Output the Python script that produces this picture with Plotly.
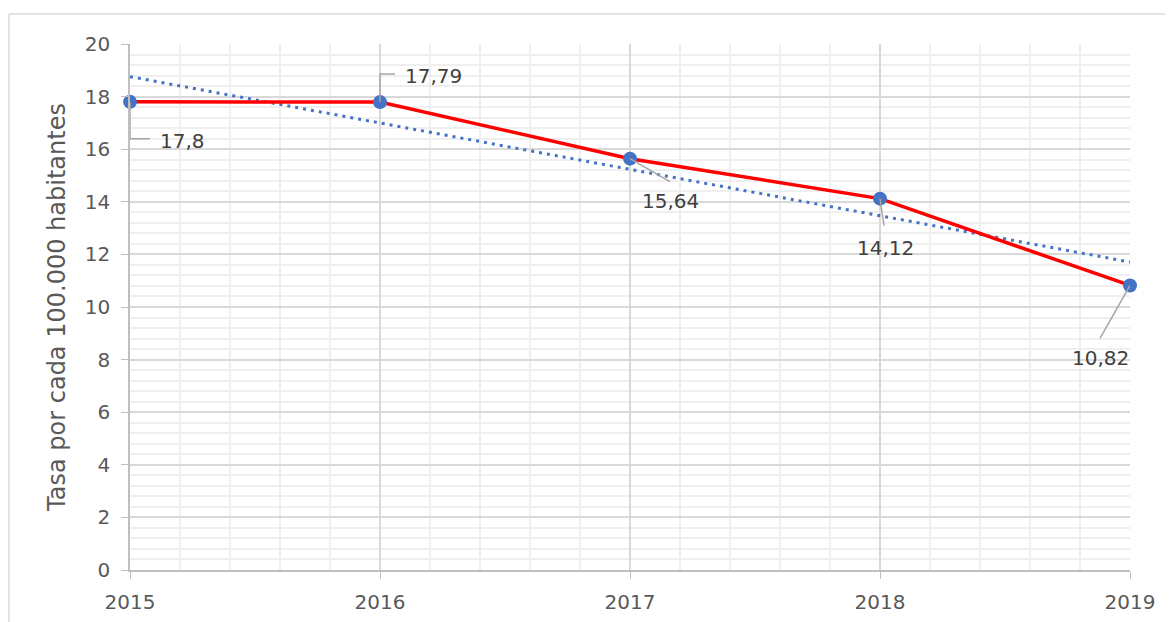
import numpy as np
import plotly.graph_objects as go

years = [2015, 2016, 2017, 2018, 2019]
rates = [17.8, 17.79, 15.64, 14.12, 10.82]
labels = ["17,8", "17,79", "15,64", "14,12", "10,82"]
y_title = "Tasa por cada 100.000 habitantes"

# label offsets (pixels, y up) and leader paths relative to each point
label_shift = [(52, -39), (53, 26), (40, -42), (5, -49), (-30, -73)]
leader_paths = [
    "M0,0 L0,-37 L20,-37",
    "M0,0 L0,28 L15,28",
    "M0,0 L40,-23",
    "M0,0 L4,-27",
    "M0,0 L-30,-53",
]

# Linear trend line (Excel-style) from the data
coef = np.polyfit(np.arange(len(years)), rates, 1)
trend = np.polyval(coef, np.arange(len(years)))

BLUE = "#4472C4"
TXT = "#404040"
FONT = "DejaVu Sans"

fig = go.Figure()
fig.add_trace(go.Scatter(
    x=years, y=trend, mode="lines",
    line=dict(color=BLUE, width=3, dash="3px,5px"),
    hoverinfo="skip", showlegend=False, cliponaxis=False,
))
fig.add_trace(go.Scatter(
    x=years, y=rates, mode="lines+markers",
    line=dict(color="#FF0000", width=3.5),
    marker=dict(color=BLUE, size=14),
    showlegend=False, cliponaxis=False,
))

for yr, v, lab, (dx, dy), p in zip(years, rates, labels, label_shift, leader_paths):
    fig.add_shape(type="path", xref="x", yref="y", xsizemode="pixel", ysizemode="pixel",
                  xanchor=yr, yanchor=v, path=p,
                  line=dict(color="#A6A6A6", width=1.5), layer="above")
    fig.add_annotation(x=yr, y=v, text=lab, showarrow=False,
                       xshift=dx, yshift=dy,
                       font=dict(family=FONT, size=20, color=TXT))

# Outer chart frame
fig.add_shape(type="line", xref="paper", yref="paper", x0=-0.121, x1=-0.121, y0=1.057, y1=-0.2,
              line=dict(color="#D9D9D9", width=1.5))
fig.add_shape(type="line", xref="paper", yref="paper", x0=-0.121, x1=1.1, y0=1.057, y1=1.057,
              line=dict(color="#D9D9D9", width=1.5))

fig.update_xaxes(
    range=[2015, 2019], tickmode="array", tickvals=years, ticktext=[str(y) for y in years],
    showgrid=True, gridcolor="#D9D9D9", gridwidth=1.5,
    minor=dict(dtick=0.2, tick0=2015, showgrid=True, gridcolor="#EFEFEF", gridwidth=1.5),
    showline=True, linecolor="#BFBFBF", linewidth=1.5,
    ticks="outside", ticklen=7, tickcolor="#BFBFBF", ticklabelstandoff=6,
    tickfont=dict(family=FONT, size=20, color="#595959"),
    zeroline=False, mirror=False,
)
fig.update_yaxes(
    range=[0, 20], dtick=2,
    showgrid=True, gridcolor="#D9D9D9", gridwidth=1.5,
    minor=dict(dtick=0.4, showgrid=True, gridcolor="#EFEFEF", gridwidth=1.5),
    showline=True, linecolor="#BFBFBF", linewidth=1.5,
    ticks="outside", ticklen=7, tickcolor="#BFBFBF", ticklabelstandoff=7,
    tickfont=dict(family=FONT, size=20, color="#595959"),
    title=dict(text=y_title, font=dict(family=FONT, size=24, color="#595959"), standoff=12),
    zeroline=False,
)

fig.update_layout(
    width=1173, height=622,
    margin=dict(l=122, r=51, t=36, b=60, autoexpand=False),
    plot_bgcolor="white", paper_bgcolor="white",
)

fig.write_html("out.html")
